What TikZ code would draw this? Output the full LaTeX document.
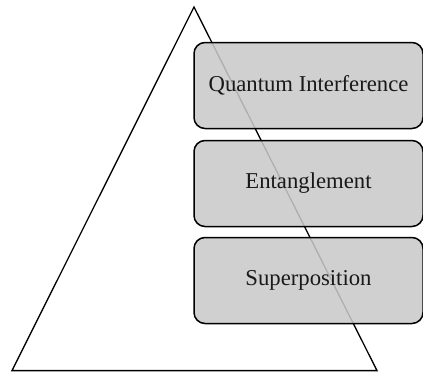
\documentclass[tikz,border=0pt]{standalone}
\usepackage{fontspec}
\setmainfont{Liberation Serif}
\newcommand{\lowtext}[1]{\raisebox{-2.5pt}{#1}}
\begin{document}
\begin{tikzpicture}[x=1pt,y=-1pt,
  layerbox/.style={draw=black, line width=1.5pt, rounded corners=11pt,
    fill={rgb,255:red,201;green,201;blue,201}, fill opacity=0.87, text opacity=1,
    minimum width=229pt, minimum height=86pt, inner sep=0pt,
    font=\fontsize{22.7}{26}\selectfont, text=black!90},
  tri/.style={draw=black, line width=1.3pt, line join=miter}]
\useasboundingbox (0,0) rectangle (423,372);
\coordinate (apex) at (194,7);
\coordinate (bl) at (12,370.6);
\coordinate (br) at (377,370.6);
\draw[tri] (apex) -- (bl) -- (br) -- cycle;
\node[layerbox] (qi) at (308.5,85.5) {\lowtext{Quantum Interference}};
\node[layerbox] (ent) at (308.5,183.5) {\lowtext{Entanglement}};
\node[layerbox] (sup) at (308.5,280.5) {\lowtext{Superposition}};
\end{tikzpicture}
\end{document}
